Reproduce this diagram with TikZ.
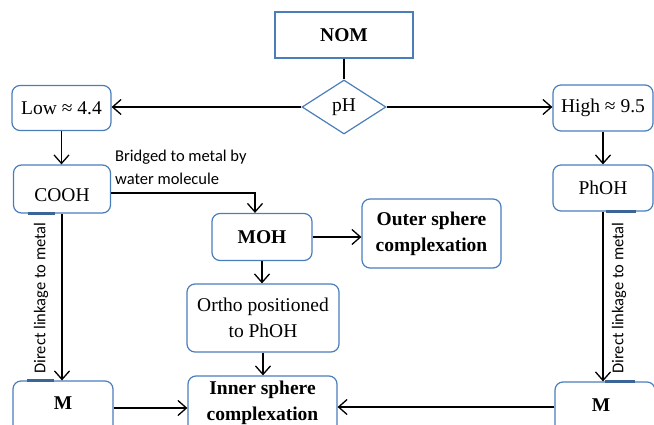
\documentclass[tikz,border=0pt]{standalone}
\usepackage{fontspec}
\setmainfont{Liberation Serif}
\newfontfamily\lblfont{Carlito}
\usetikzlibrary{arrows.meta,shapes.geometric}
\definecolor{boxblue}{HTML}{4A7EBB}
\definecolor{segblue}{HTML}{3A6596}
\begin{document}
\begin{tikzpicture}[x=1pt,y=-1pt,
  every node/.style={inner sep=0pt, font=\fontsize{19.5}{26}\selectfont},
  rbox/.style={draw=boxblue, line width=1.2pt, rounded corners=8pt, align=center},
  sbox/.style={draw=boxblue, line width=1.2pt, align=center},
  txt/.style={align=center},
  conn/.style={line width=1.3pt, -{Straight Barb[length=8.5pt,width=15pt,line width=1.3pt]}},
  plainline/.style={line width=1.3pt},
  lbl/.style={font=\lblfont\fontsize{16.5}{23}\selectfont},
  seg/.style={draw=segblue, line width=2.2pt}
]
\useasboundingbox (0,0) rectangle (654,425);
\clip (0,0) rectangle (654,425);

% nodes
\node[sbox, minimum width=138pt, minimum height=46pt] (nom) at (344,35) {\bfseries NOM};
\node[draw=boxblue, line width=1.2pt, diamond, minimum width=84pt, minimum height=54pt] (ph) at (344,107) {pH};
\node[rbox, minimum width=99pt, minimum height=45pt] (low) at (61.5,108) {Low ≈ 4.4};
\node[rbox, minimum width=100pt, minimum height=46pt] (high) at (603,108) {High ≈ 9.5};
\node[rbox, minimum width=97pt, minimum height=48pt] (cooh) at (62,189) {};
\node[txt] (coohT) at (62,195) {COOH};
\node[rbox, minimum width=100pt, minimum height=46pt] (phoh) at (603,188) {PhOH};
\node[rbox, minimum width=100pt, minimum height=47pt] (moh) at (262,237) {\bfseries MOH};
\node[rbox, minimum width=139pt, minimum height=69pt] (outer) at (431.5,233.5) {\bfseries Outer sphere\\\bfseries complexation};
\node[rbox, minimum width=152pt, minimum height=68pt] (ortho) at (263,318) {Ortho positioned\\to PhOH};
\node[rbox, minimum width=149pt, minimum height=70pt] (inner) at (262.5,411) {};
\node[txt] (innerT) at (262.5,403) {\bfseries Inner sphere\\\bfseries complexation};
\node[rbox, minimum width=100pt, minimum height=64pt] (ml) at (63,413) {};
\node[txt] (mlT) at (63,403) {\bfseries M};
\node[rbox, minimum width=100pt, minimum height=64pt] (mr) at (605,414) {};
\node[txt] (mrT) at (601,405) {\bfseries M};

% labels
\node[lbl, anchor=base west] (br1) at (115,162) {Bridged to metal by};
\node[lbl, anchor=base west] (br2) at (115,185) {water molecule};
\node[lbl, rotate=90] (dl1) at (41,298) {Direct linkage to metal};
\node[lbl, rotate=90] (dl2) at (619,298) {Direct linkage to metal};

% connectors
\draw[plainline] (nom.south) -- (ph.north);
\draw[conn] (ph.west) -- (ph.west -| low.east);
\draw[conn] (ph.east) -- (ph.east -| high.west);
\draw[conn] (low.south) -- (low.south |- cooh.north);
\draw[conn] (high.south) -- (high.south |- phoh.north);
\draw[conn] ([yshift=-4pt]cooh.east) -| ([xshift=-7pt]moh.north);
\draw[conn] (moh.east) -- (moh.east -| outer.west);
\draw[conn] (moh.south) -- (moh.south |- ortho.north);
\draw[conn] (ortho.south) -- (ortho.south |- inner.north);
\draw[conn] (cooh.south) -- (cooh.south |- ml.north);
\draw[conn] (phoh.south) -- (phoh.south |- mr.north);
\draw[conn] ([yshift=5pt]ml.east) -- ([yshift=5pt]ml.east -| inner.west);
\draw[conn] ([yshift=7pt]mr.west) -- ([yshift=7pt]mr.west -| inner.east);

% small border artefacts
\draw[seg] ([xshift=15pt]cooh.south west) -- ([xshift=42pt]cooh.south west);
\draw[seg] ([xshift=15pt]ml.north west) -- ([xshift=42pt]ml.north west);
\draw[seg] ([xshift=54pt]phoh.south west) -- ([xshift=84pt]phoh.south west);
\draw[seg] ([xshift=51pt]mr.north west) -- ([xshift=81pt]mr.north west);
\end{tikzpicture}
\end{document}
